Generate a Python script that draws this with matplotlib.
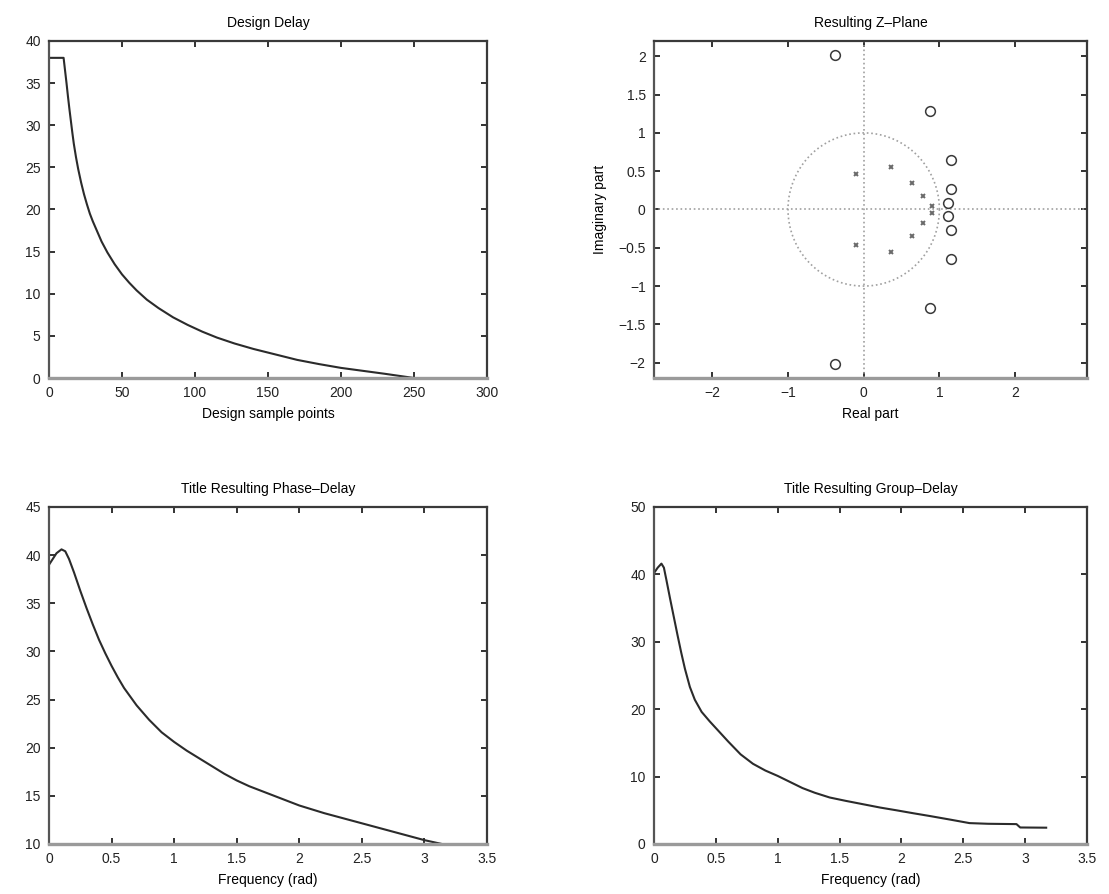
import numpy as np
import matplotlib
matplotlib.use("Agg")
import matplotlib.pyplot as plt

# ---- Design delay (samples vs. design sample points) ----
design_x = [0, 10, 11, 12, 13, 14, 15, 16, 17, 18.5, 20, 22, 24, 26, 28, 30, 33,
            36, 40, 45, 50, 55, 60, 67, 75, 85, 95, 105, 115, 127, 140, 155,
            170, 185, 200, 215, 230, 240, 250]
design_y = [38, 38, 36.5, 35.0, 33.4, 31.9, 30.5, 29.1, 27.8, 26.2, 24.8, 23.2,
            21.8, 20.6, 19.5, 18.6, 17.4, 16.2, 14.9, 13.5, 12.3, 11.3, 10.4,
            9.3, 8.3, 7.2, 6.3, 5.5, 4.8, 4.1, 3.45, 2.8, 2.15, 1.65, 1.2, 0.85,
            0.5, 0.25, 0.0]

# ---- Pole / zero locations of the resulting filter ----
zeros_re = [-0.38, -0.38, 0.88, 0.88, 1.15, 1.15, 1.15, 1.15, 1.12, 1.12]
zeros_im = [2.02, -2.02, 1.28, -1.28, 0.65, -0.65, 0.27, -0.27, 0.09, -0.09]
poles_re = [-0.10, -0.10, 0.36, 0.36, 0.64, 0.64, 0.79, 0.79, 0.90, 0.90]
poles_im = [0.47, -0.47, 0.55, -0.55, 0.35, -0.35, 0.17, -0.17, 0.05, -0.05]

# ---- Resulting phase delay ----
phase_w = [0, 0.03, 0.06, 0.10, 0.13, 0.16, 0.20, 0.25, 0.30, 0.35, 0.40, 0.45,
           0.50, 0.55, 0.60, 0.70, 0.80, 0.90, 1.0, 1.1, 1.2, 1.3, 1.4, 1.5,
           1.6, 1.8, 2.0, 2.2, 2.4, 2.6, 2.8, 3.0, 3.14]
phase_d = [39.0, 39.6, 40.2, 40.6, 40.4, 39.6, 38.2, 36.3, 34.5, 32.8, 31.2,
           29.8, 28.5, 27.3, 26.2, 24.4, 22.9, 21.6, 20.6, 19.7, 18.9, 18.1,
           17.3, 16.6, 16.0, 15.0, 14.0, 13.2, 12.5, 11.8, 11.1, 10.4, 10.0]

# ---- Resulting group delay ----
group_w = [0, 0.03, 0.06, 0.08, 0.10, 0.13, 0.16, 0.19, 0.22, 0.25, 0.29, 0.33,
           0.385, 0.45, 0.53, 0.60, 0.70, 0.80, 0.90, 1.0, 1.1, 1.2, 1.3, 1.42,
           1.55, 1.69, 1.83, 1.96, 2.1, 2.23, 2.4, 2.55, 2.7, 2.93, 2.96, 3.17]
group_d = [40.2, 41.0, 41.6, 41.0, 39.2, 36.4, 33.7, 31.0, 28.4, 26.0, 23.3,
           21.4, 19.6, 18.2, 16.6, 15.2, 13.3, 11.9, 10.9, 10.1, 9.2, 8.3, 7.6,
           6.9, 6.4, 5.9, 5.4, 5.0, 4.55, 4.15, 3.6, 3.1, 3.0, 2.95, 2.45, 2.42]

plt.rcParams['font.family'] = ['Liberation Sans', 'DejaVu Sans']
plt.rcParams['font.size'] = 10

fig = plt.figure(figsize=(11.09, 8.94), dpi=100)
fig.patch.set_facecolor('white')

LINE = '#2b2b2b'


def style(ax):
    ax.tick_params(direction='in', top=True, right=True, length=4, width=1.3,
                   color='#222222', pad=6, labelsize=10, labelcolor='#222222')
    for side in ('top', 'right'):
        ax.spines[side].set_color('#3a3a3a')
        ax.spines[side].set_linewidth(1.6)
    ax.spines['left'].set_color('#555555')
    ax.spines['left'].set_linewidth(1.6)
    ax.spines['bottom'].set_color('#9a9a9a')
    ax.spines['bottom'].set_linewidth(2.4)


# Design delay
ax1 = fig.add_axes([0.04418, 0.57718, 0.39495, 0.37696])
ax1.plot(design_x, design_y, color=LINE, lw=1.5)
ax1.set_xlim(0, 300)
ax1.set_ylim(0, 40)
ax1.set_xticks(np.arange(0, 301, 50))
ax1.set_yticks(np.arange(0, 41, 5))
ax1.set_title('Design Delay', fontsize=10, pad=10)
ax1.set_xlabel('Design sample points', labelpad=5)
style(ax1)

# Z-plane
ax2 = fig.add_axes([0.58972, 0.57718, 0.39044, 0.37696])
theta = np.linspace(0, 2 * np.pi, 200)
ax2.plot(np.cos(theta), np.sin(theta), ls=':', color='#a0a0a0', lw=1.2)
ax2.axhline(0, ls=':', color='#a0a0a0', lw=1.2)
ax2.axvline(0, ls=':', color='#a0a0a0', lw=1.2)
ax2.plot(zeros_re, zeros_im, 'o', ms=7, mfc='none', mec='#3a3a3a', mew=1.1)
ax2.plot(poles_re, poles_im, 'x', ms=3.5, mec='#6a6a6a', mew=1.4)
ax2.set_xlim(-2.77, 2.95)
ax2.set_ylim(-2.2, 2.2)
ax2.set_xticks([-2, -1, 0, 1, 2])
ax2.set_yticks(np.arange(-2, 2.01, 0.5))
ax2.set_yticklabels(['\u22122', '\u22121.5', '\u22121', '\u22120.5', '0',
                     '0.5', '1', '1.5', '2'])
ax2.set_xticklabels(['\u22122', '\u22121', '0', '1', '2'])
ax2.set_title('Resulting Z\u2013Plane', fontsize=10, pad=10)
ax2.set_xlabel('Real part', labelpad=5)
ax2.set_ylabel('Imaginary part', labelpad=8)
style(ax2)

# Phase delay
ax3 = fig.add_axes([0.04418, 0.05593, 0.39495, 0.37696])
ax3.plot(phase_w, phase_d, color=LINE, lw=1.5)
ax3.set_xlim(0, 3.5)
ax3.set_ylim(10, 45)
ax3.set_xticks(np.arange(0, 3.51, 0.5))
ax3.set_xticklabels(['0', '0.5', '1', '1.5', '2', '2.5', '3', '3.5'])
ax3.set_yticks(np.arange(10, 46, 5))
ax3.set_title('Title Resulting Phase\u2013Delay', fontsize=10, pad=10)
ax3.set_xlabel('Frequency (rad)', labelpad=5)
style(ax3)

# Group delay
ax4 = fig.add_axes([0.58972, 0.05593, 0.39044, 0.37696])
ax4.plot(group_w, group_d, color=LINE, lw=1.5)
ax4.set_xlim(0, 3.5)
ax4.set_ylim(0, 50)
ax4.set_xticks(np.arange(0, 3.51, 0.5))
ax4.set_xticklabels(['0', '0.5', '1', '1.5', '2', '2.5', '3', '3.5'])
ax4.set_yticks(np.arange(0, 51, 10))
ax4.set_title('Title Resulting Group\u2013Delay', fontsize=10, pad=10)
ax4.set_xlabel('Frequency (rad)', labelpad=5)
style(ax4)

fig.savefig('out.png', dpi=100, facecolor='white')
